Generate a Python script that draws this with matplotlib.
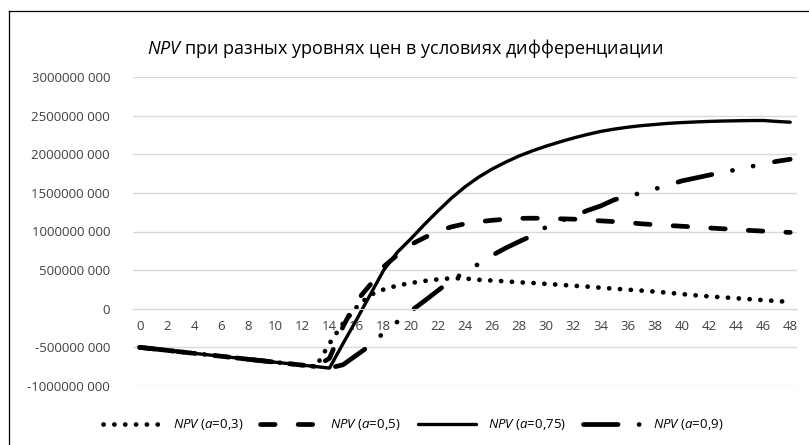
import matplotlib
matplotlib.use("Agg")
import matplotlib.pyplot as plt
from matplotlib.lines import Line2D
from matplotlib.ticker import FuncFormatter, FixedLocator

plt.rcParams['font.family'] = ['Open Sans', 'DejaVu Sans']
plt.rcParams['mathtext.fontset'] = 'custom'
plt.rcParams['mathtext.rm'] = 'Open Sans'
plt.rcParams['mathtext.it'] = 'Open Sans:italic'
plt.rcParams['lines.scale_dashes'] = False

# Price levels (category axis)
periods = list(range(49))
x_ticks = list(range(0, 49, 2))
y_ticks_mln = [-1000, -500, 0, 500, 1000, 1500, 2000, 2500, 3000]

# NPV, million roubles
npv_a03 = [-500, -519, -538, -558, -577, -596, -615, -634, -654, -673, -692, -711, -730, -749,
           -450, -190, 20, 180, 250, 300, 333, 360, 380, 395, 392, 375, 365, 355, 342, 334,
           322, 310, 298, 287, 272, 260, 247, 235, 222, 207, 190, 174, 160, 148, 136, 124,
           112, 100, 88]
npv_a05 = [-500, -519, -538, -558, -577, -596, -615, -634, -654, -673, -692, -711, -730, -749,
           -640, -230, 100, 310, 545, 695, 830, 920, 1005, 1060, 1100, 1125, 1145, 1160, 1170,
           1172, 1170, 1165, 1160, 1150, 1138, 1128, 1115, 1100, 1088, 1078, 1068, 1058, 1046,
           1036, 1025, 1014, 1005, 996, 988]
npv_a075 = [-500, -519, -538, -558, -577, -596, -615, -634, -654, -673, -692, -711, -730, -749,
            -768, -450, -140, 180, 500, 730, 905, 1090, 1265, 1432, 1578, 1703, 1808, 1898,
            1978, 2046, 2106, 2160, 2210, 2255, 2295, 2325, 2350, 2370, 2385, 2400, 2410, 2418,
            2425, 2430, 2433, 2436, 2437, 2425, 2415]
npv_a09 = [-500, -519, -538, -558, -577, -596, -615, -634, -654, -673, -692, -711, -730, -749,
           -768, -725, -600, -475, -310, -170, -30, 100, 235, 370, 470, 580, 690, 786, 870, 950,
           1060, 1135, 1195, 1270, 1330, 1410, 1455, 1500, 1550, 1600, 1655, 1692, 1730, 1765,
           1800, 1838, 1872, 1908, 1935]

labels = [r'$\mathit{NPV}$ ($\mathit{a}$=0,3)', r'$\mathit{NPV}$ ($\mathit{a}$=0,5)',
          r'$\mathit{NPV}$ ($\mathit{a}$=0,75)', r'$\mathit{NPV}$ ($\mathit{a}$=0,9)']
title = r'$\mathit{NPV}$ при разных уровнях цен в условиях дифференциации'

W, H = 809, 445
fig = plt.figure(figsize=(W / 100, H / 100), dpi=100)
ax = fig.add_axes([133 / W, 1 - 386 / H, (797 - 133) / W, (386 - 77) / H])

styles = [
    dict(lw=3.4, dashes=(0.1, 7.7), dash_capstyle='round'),
    dict(lw=3.4, dashes=(10.5, 16.6), dash_capstyle='round'),
    dict(lw=2.4, linestyle='-', solid_capstyle='round'),
    dict(lw=3.4, dashes=(24.9, 15.1, 0.1, 15.1, 0.1, 15.6), dash_capstyle='round'),
]
for series, lab, st in zip([npv_a03, npv_a05, npv_a075, npv_a09], labels, styles):
    ax.plot(periods, series, color='black', label=lab, solid_joinstyle='round', **st)

ax.set_xlim(-0.5, 48.5)
ax.set_ylim(-1000, 3000)
ax.yaxis.set_major_locator(FixedLocator(y_ticks_mln))
ax.xaxis.set_major_locator(FixedLocator(x_ticks))
ax.xaxis.set_major_formatter(FuncFormatter(lambda v, p: f'{int(round(v))}'))


def fmt_mln(v, pos):
    n = int(round(v * 1e6))
    if n == 0:
        return '0'
    s = str(abs(n))
    s = s[:-3] + ' ' + s[-3:]
    return ('-' if n < 0 else '') + s


ax.yaxis.set_major_formatter(FuncFormatter(fmt_mln))
ax.grid(axis='y', color='#d9d9d9', lw=1.0)
ax.set_axisbelow(True)
for side in ['top', 'right', 'left']:
    ax.spines[side].set_visible(False)
ax.spines['bottom'].set_position(('data', 0))
ax.spines['bottom'].set_color('#d9d9d9')
ax.tick_params(axis='x', length=0, pad=8, labelsize=9.5, colors='#404040')
ax.tick_params(axis='y', length=0, pad=16.5, labelsize=9.5, colors='#404040')

fig.text(405 / W, 1 - 48 / H, title, ha='center', va='center', fontsize=13, color='black')

fig.legend(loc='center', bbox_to_anchor=(413 / W, 1 - 425 / H), ncol=4, frameon=False,
           fontsize=9.5, handlelength=4.4, handletextpad=0.9, columnspacing=1.3)

# chart-area border
fig.add_artist(Line2D([8.5 / W, 8.5 / W], [0, 1 - 10.5 / H], transform=fig.transFigure,
                      color='black', lw=0.9))
fig.add_artist(Line2D([8.5 / W, 1], [1 - 10.5 / H, 1 - 10.5 / H], transform=fig.transFigure,
                      color='black', lw=0.9))

fig.savefig('out.png', dpi=100, facecolor='white')
